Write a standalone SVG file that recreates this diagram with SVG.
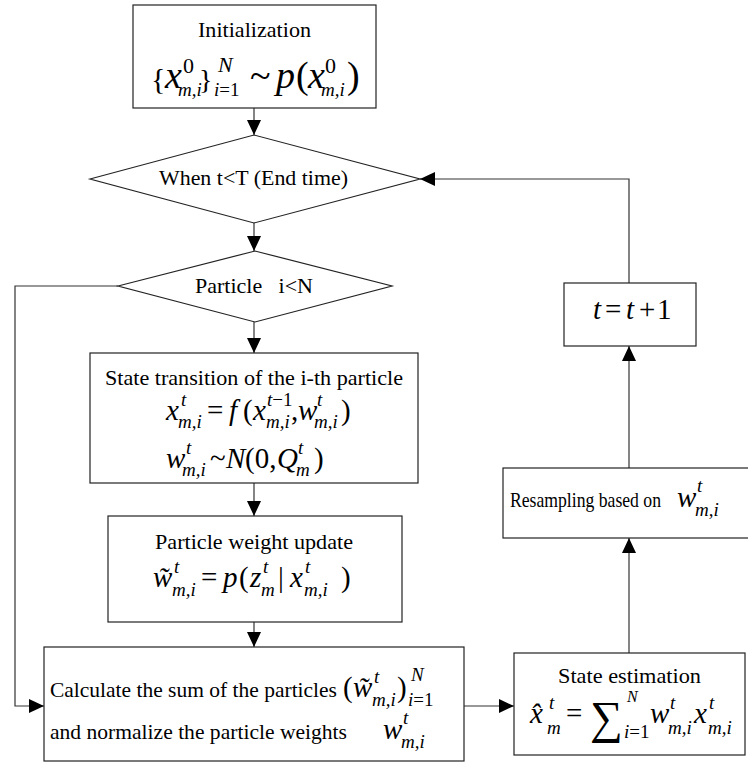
<svg xmlns="http://www.w3.org/2000/svg" width="748" height="762" viewBox="0 0 748 762">
  <defs>
    <marker id="arrow" markerUnits="userSpaceOnUse" markerWidth="15" markerHeight="14" refX="15" refY="7" orient="auto">
      <path d="M0,0 L15,7 L0,14 z" fill="#000"/>
    </marker>
    <style>
      .box { fill: #fff; stroke: #222; stroke-width: 1.2; }
      .line { fill: none; stroke: #333; stroke-width: 1.2; }
      .txt { font-family: "Liberation Serif", "Times New Roman", serif; font-size: 21px; fill: #000; }
      .m { font-family: "Liberation Serif", "Times New Roman", serif; font-size: 29px; fill: #000; }
      .mb { font-family: "Liberation Serif", "Times New Roman", serif; font-size: 38px; fill: #000; }
      .i { font-style: italic; }
      .s { font-size: 19px; }
      .sb { font-size: 22px; }
    </style>
  </defs>
  <rect width="748" height="762" fill="#fff"/>

  <g id="connectors">
    <line class="line" x1="254" y1="108" x2="254" y2="135" marker-end="url(#arrow)"/>
    <line class="line" x1="254" y1="223" x2="254" y2="251" marker-end="url(#arrow)"/>
    <line class="line" x1="254" y1="322" x2="254" y2="353" marker-end="url(#arrow)"/>
    <line class="line" x1="254" y1="483" x2="254" y2="516" marker-end="url(#arrow)"/>
    <line class="line" x1="254" y1="622" x2="254" y2="647" marker-end="url(#arrow)"/>
    <polyline class="line" points="118,286 15,286 15,706 44,706" marker-end="url(#arrow)"/>
    <line class="line" x1="464" y1="706" x2="514" y2="706" marker-end="url(#arrow)"/>
    <line class="line" x1="629" y1="653" x2="629" y2="538" marker-end="url(#arrow)"/>
    <line class="line" x1="629" y1="468" x2="629" y2="346" marker-end="url(#arrow)"/>
    <polyline class="line" points="629,283 629,179 420,179" marker-end="url(#arrow)"/>
  </g>

  <g id="init">
    <rect class="box" x="133" y="5" width="243" height="103"/>
    <text class="txt" x="198" y="37" textLength="113" lengthAdjust="spacingAndGlyphs">Initialization</text>
    <text class="mb">
      <tspan x="151" y="89" style="font-size:30px">{</tspan>
      <tspan class="i" x="165" y="88">x</tspan>
      <tspan class="sb" x="183" y="73">0</tspan>
      <tspan class="s i" x="178" y="96">m,i</tspan>
      <tspan x="199" y="89" style="font-size:28px">}</tspan>
      <tspan class="sb i" x="218" y="72">N</tspan>
      <tspan class="s i" x="214" y="96">i</tspan><tspan class="s">=1</tspan>
      <tspan x="250" y="88">~</tspan>
      <tspan class="i" x="276" y="88">p</tspan>
      <tspan x="296" y="88">(</tspan>
      <tspan class="i" x="308" y="88">x</tspan>
      <tspan class="sb" x="325" y="73">0</tspan>
      <tspan class="s i" x="321" y="96">m,i</tspan>
      <tspan x="347" y="88">)</tspan>
    </text>
  </g>

  <g id="loop-time">
    <polygon class="box" points="90,179 254,135 420,179 254,223"/>
    <text class="txt" x="159" y="185" textLength="189" lengthAdjust="spacingAndGlyphs">When t&lt;T (End time)</text>
  </g>

  <g id="loop-particle">
    <polygon class="box" points="118,286 255,251 392,286 255,322"/>
    <text class="txt" x="195" y="293" textLength="118" lengthAdjust="spacingAndGlyphs" xml:space="preserve">Particle   i&lt;N</text>
  </g>

  <g id="state-transition">
    <rect class="box" x="90" y="353" width="328" height="130"/>
    <text class="txt" x="105" y="385" textLength="298" lengthAdjust="spacingAndGlyphs">State transition of the i-th particle</text>
    <text class="m">
      <tspan class="i" x="166" y="420">x</tspan>
      <tspan class="s i" x="181" y="406">t</tspan>
      <tspan class="s i" x="178" y="428">m,i</tspan>
      <tspan x="207" y="420">=</tspan>
      <tspan class="i" x="229" y="420">f</tspan>
      <tspan x="243" y="420">(</tspan>
      <tspan class="i" x="253" y="420">x</tspan>
      <tspan class="s i" x="267" y="406">t</tspan><tspan class="s">−1</tspan>
      <tspan class="s i" x="266" y="428">m,i</tspan>
      <tspan x="291" y="420">,</tspan>
      <tspan class="i" x="298" y="420">w</tspan>
      <tspan class="s i" x="317" y="406">t</tspan>
      <tspan class="s i" x="314" y="428">m,i</tspan>
      <tspan x="341" y="420">)</tspan>
    </text>
    <text class="m">
      <tspan class="i" x="166" y="468">w</tspan>
      <tspan class="s i" x="186" y="454">t</tspan>
      <tspan class="s i" x="182" y="476">m,i</tspan>
      <tspan x="210" y="468">~</tspan>
      <tspan class="i" x="226" y="468">N</tspan>
      <tspan x="245" y="468">(0,</tspan>
      <tspan class="i" x="277" y="468">Q</tspan>
      <tspan class="s i" x="298" y="454">t</tspan>
      <tspan class="s i" x="296" y="476">m</tspan>
      <tspan x="314" y="468">)</tspan>
    </text>
  </g>

  <g id="weight-update">
    <rect class="box" x="108" y="516" width="294" height="106"/>
    <text class="txt" x="155" y="549" textLength="198" lengthAdjust="spacingAndGlyphs">Particle weight update</text>
    <text class="m">
      <tspan class="i" x="153" y="587">w̃</tspan>
      <tspan class="s i" x="174" y="573">t</tspan>
      <tspan class="s i" x="172" y="596">m,i</tspan>
      <tspan x="201" y="587">=</tspan>
      <tspan class="i" x="223" y="587">p</tspan>
      <tspan x="239" y="587">(</tspan>
      <tspan class="i" x="250" y="587">z</tspan>
      <tspan class="s i" x="263" y="573">t</tspan>
      <tspan class="s i" x="261" y="596">m</tspan>
      <tspan x="278" y="587">|</tspan>
      <tspan class="i" x="290" y="587">x</tspan>
      <tspan class="s i" x="305" y="573">t</tspan>
      <tspan class="s i" x="304" y="596">m,i</tspan>
      <tspan x="341" y="587">)</tspan>
    </text>
  </g>

  <g id="normalize">
    <rect class="box" x="44" y="647" width="420" height="114"/>
    <text class="txt" x="50" y="697" textLength="287" lengthAdjust="spacingAndGlyphs">Calculate the sum of the particles</text>
    <text class="m">
      <tspan x="343" y="697">(</tspan>
      <tspan class="i" x="353" y="697">w̃</tspan>
      <tspan class="s i" x="374" y="683">t</tspan>
      <tspan class="s i" x="372" y="706">m,i</tspan>
      <tspan x="397" y="697">)</tspan>
      <tspan class="s i" x="411" y="681">N</tspan>
      <tspan class="s i" x="408" y="706">i</tspan><tspan class="s">=1</tspan>
    </text>
    <text class="txt" x="50" y="739" textLength="297" lengthAdjust="spacingAndGlyphs">and normalize the particle weights</text>
    <text class="m">
      <tspan class="i" x="383" y="739">w</tspan>
      <tspan class="s i" x="403" y="724">t</tspan>
      <tspan class="s i" x="401" y="748">m,i</tspan>
    </text>
  </g>

  <g id="state-estimation">
    <rect class="box" x="514" y="653" width="231" height="102"/>
    <text class="txt" x="558" y="683" textLength="143" lengthAdjust="spacingAndGlyphs">State estimation</text>
    <text class="m">
      <tspan class="i" x="530" y="723">x̂</tspan>
      <tspan class="s i" x="549" y="709">t</tspan>
      <tspan class="s i" x="547" y="734">m</tspan>
      <tspan x="566" y="723">=</tspan>
      <tspan x="590" y="733" style="font-size:46px">∑</tspan>
      <tspan class="s i" x="627" y="702" style="font-size:16px">N</tspan>
      <tspan class="s i" x="624" y="738">i</tspan><tspan class="s">=1</tspan>
      <tspan class="i" x="650" y="723">w</tspan>
      <tspan class="s i" x="670" y="709">t</tspan>
      <tspan class="s i" x="668" y="734">m,i</tspan>
      <tspan class="i" x="694" y="723">x</tspan>
      <tspan class="s i" x="709" y="709">t</tspan>
      <tspan class="s i" x="708" y="734">m,i</tspan>
    </text>
  </g>

  <g id="resampling">
    <rect class="box" x="503" y="468" width="260" height="70"/>
    <text class="txt" x="510" y="507" textLength="151" lengthAdjust="spacingAndGlyphs">Resampling based on</text>
    <text class="m">
      <tspan class="i" x="677" y="507">w</tspan>
      <tspan class="s i" x="697" y="492">t</tspan>
      <tspan class="s i" x="695" y="516">m,i</tspan>
    </text>
  </g>

  <g id="time-step">
    <rect class="box" x="564" y="283" width="132" height="63"/>
    <text class="m">
      <tspan class="i" x="593" y="319">t</tspan>
      <tspan x="605" y="319">=</tspan>
      <tspan class="i" x="626" y="319">t</tspan>
      <tspan x="639" y="319">+</tspan>
      <tspan x="657" y="319">1</tspan>
    </text>
  </g>
</svg>
